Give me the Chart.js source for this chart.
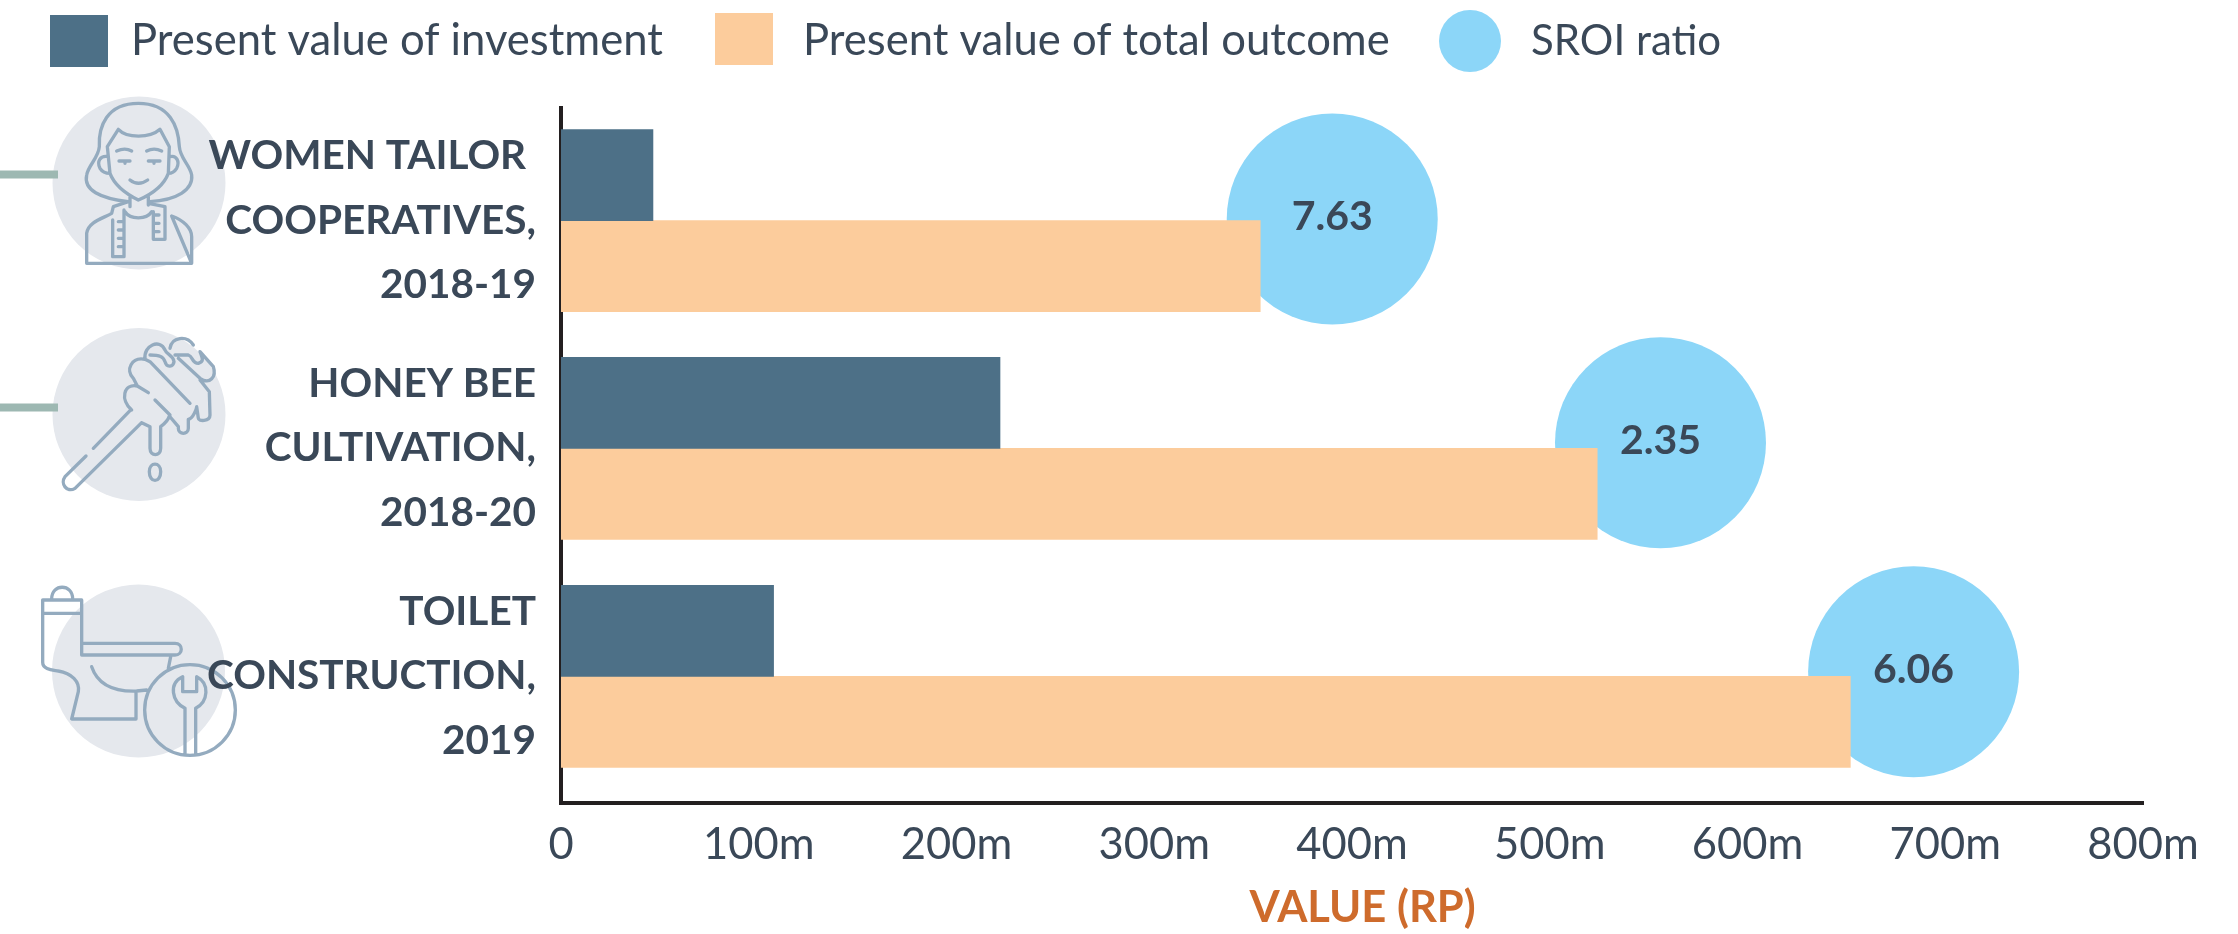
<!DOCTYPE html>
<html><head><meta charset="utf-8">
<style>html,body{margin:0;padding:0;background:#fff}canvas{display:block}</style>
<script src="https://cdn.jsdelivr.net/npm/chart.js@4"></script>
</head><body><div style="width:2238px;height:934px;position:relative"><canvas id="c" width="2238" height="934"></canvas></div>
<script>
const categories = [["WOMEN TAILOR ","COOPERATIVES,","2018-19"],["HONEY BEE","CULTIVATION,","2018-20"],["TOILET","CONSTRUCTION,","2019"]];
const categoryPositions = [0,1,2];
const investment = [46.5,222,107.5];
const outcome = [353.6,524,652];
const sroiRatio = [7.63,2.35,6.06];
const sroiBubbleX = [390,556,684];
const sroiBubbleY = [-0.007,-0.025,-0.02];
const seriesNames = ["Present value of investment","Present value of total outcome","SROI ratio"];
const xTicks = [0,100,200,300,400,500,600,700,800];
const FONT = 'Lato';
const INK = '#3A4858';
const DARK='#4D7087', PEACH='#FCCC9C', SKY='#8CD6F8';

function icon(c,ox,oy,paths,extra){
  c.save();c.translate(ox,oy);c.scale(1/3,1/3);
  c.strokeStyle='#94ABBF';c.lineWidth=10;c.lineCap='round';c.lineJoin='round';
  c.stroke(new Path2D(paths));
  if(extra)extra(c);
  c.restore();
}
const womanIcon="M235,335 C150,325 100,300 110,255 C115,225 145,205 148,170 C145,110 170,40 265,40 C360,40 385,110 388,170 C390,205 420,225 425,255 C430,300 380,330 300,335 "+
 "M172,170 L205,118 C230,145 300,145 330,118 L358,170 L355,250 C340,290 300,315 265,330 C235,315 195,290 180,250 Z "+
 "M175,200 C150,195 140,215 150,235 C158,248 170,250 180,250 M360,200 C380,195 390,215 380,235 C372,248 362,250 355,250 "+
 "M200,183 Q225,172 245,183 M290,183 Q312,172 335,183 M207,213 L240,213 M295,213 L330,213 M225,213 L225,220 M312,213 L312,220 M240,270 Q265,290 293,270 "+
 "M225,365 C240,390 290,390 305,365 M240,320 L240,350 M295,320 L295,345 "+
 "M110,520 L110,430 C115,395 160,385 185,370 L190,350 L235,335 M365,378 C400,390 425,415 425,440 L425,520 Z M110,520 L425,520 "+
 "M188,390 L188,500 L222,500 L222,360 M205,395 L222,395 M205,420 L222,420 M205,445 L222,445 M205,470 L222,470 "+
 "M310,365 L310,448 L345,448 L345,350 L295,340 M310,375 L327,375 M310,400 L327,400 M310,425 L327,425";
const honeyIcon="M240,272 L130,385 M108,408 L45,470 C30,490 50,520 75,505 L275,308 "+
 "M245,270 C210,240 220,190 262,198 L295,218 M315,240 L360,285 M275,308 L300,320 L300,385 C300,410 332,410 332,385 L332,320 C345,310 355,300 358,288 "+
 "M262,198 L250,175 C225,150 245,110 285,118 L300,125 L420,250 "+
 "M358,288 L385,320 L385,325 C385,345 415,345 415,325 L415,298 C430,295 440,265 440,260 L445,295 C445,305 480,305 480,285 L478,215 L450,180 "+
 "M285,118 C280,75 330,55 345,90 C350,105 370,105 372,125 C370,140 350,145 345,125 C340,110 330,105 300,105 "+
 "M360,85 C365,50 410,45 430,75 M375,105 L415,105 C430,110 425,130 445,130 C460,125 460,120 450,95 L490,140 C500,170 480,195 450,175 L385,115 "+
 "M298,455 C298,425 332,425 332,455 C332,490 298,490 298,455 Z";
const toiletIcon="M38,75 L155,75 L155,115 L38,115 Z M65,72 C65,25 128,25 128,72 "+
 "M38,115 L38,262 C38,285 70,285 85,288 C125,295 150,320 145,350 L125,432 L318,432 L318,350 M155,115 L155,240 "+
 "M155,205 L435,205 C460,205 460,240 435,240 L155,240 M185,275 C205,335 260,350 320,348 L350,345 M422,245 L415,280 "+
 "M465,535 L465,400 C425,380 415,325 458,305 L458,350 L500,350 L500,305 C540,325 535,380 497,400 L497,535 "+
 "M616,405 A136,136 0 1 1 344,405 A136,136 0 1 1 616,405 Z";

const decor = {
  id:'decor',
  beforeDraw(chart){
    const c=chart.ctx;c.save();
    c.fillStyle='#E5E8ED';
    [[139,183],[139,414.5],[138.5,671]].forEach(p=>{c.beginPath();c.arc(p[0],p[1],86.5,0,7);c.fill();});
    c.fillStyle='#9DB8B2';c.fillRect(0,170.5,58,8);c.fillRect(0,403.5,58,8);
    icon(c,50,90,womanIcon);
    icon(c,50,320,honeyIcon);
    icon(c,30,575,toiletIcon);
    c.restore();
  },
  afterDraw(chart){
    const c=chart.ctx;c.save();
    c.fillStyle=DARK;c.fillRect(50,15,58,52);
    c.fillStyle=PEACH;c.fillRect(715,13,58,52);
    c.fillStyle=SKY;c.beginPath();c.arc(1470,41,31,0,7);c.fill();
    c.fillStyle=INK;c.font='400 43.6px '+FONT;c.textBaseline='middle';c.textAlign='left';
    c.fillText(seriesNames[0],131,41);c.fillText(seriesNames[1],803,41);
    c.font='400 42px '+FONT;c.fillText(seriesNames[2],1531,41);
    const meta=chart.getDatasetMeta(2);
    c.textAlign='center';c.font='700 41px '+FONT;
    meta.data.forEach((el,i)=>c.fillText(sroiRatio[i].toFixed(2),el.x,el.y-2));
    c.restore();
  }
};
new Chart(document.getElementById('c'),{
  data:{
    datasets:[
      {type:'bar',label:seriesNames[0],data:investment.map((v,i)=>({x:v,y:categoryPositions[i]})),backgroundColor:DARK,order:1,barThickness:91},
      {type:'bar',label:seriesNames[1],data:outcome.map((v,i)=>({x:v,y:categoryPositions[i]})),backgroundColor:PEACH,order:2,barThickness:91},
      {type:'bubble',label:seriesNames[2],data:sroiBubbleX.map((v,i)=>({x:v,y:categoryPositions[i]+sroiBubbleY[i]})),backgroundColor:SKY,borderWidth:0,radius:105.5,order:3,clip:false}
    ]
  },
  options:{
    indexAxis:'y',responsive:false,animation:false,
    layout:{autoPadding:false,padding:{left:0,right:95,top:108,bottom:0}},
    plugins:{legend:{display:false},tooltip:{enabled:false},title:{display:false}},
    scales:{
      x:{type:'linear',position:'bottom',min:0,max:800,
        afterFit(s){s.height=131;},
        grid:{display:false,drawTicks:false},border:{color:'#231F20',width:4},
        ticks:{stepSize:100,padding:16,maxRotation:0,color:INK,font:{family:FONT,size:43.5},
          callback:v=>xTicks.includes(v)?(v===0?'0':v+'m'):''},
        title:{display:true,text:'  VALUE (RP)',color:'#CE6B2C',font:{family:FONT,size:43.5,weight:'700'},padding:{top:10,bottom:0}}},
      y:{type:'linear',reverse:true,min:-0.494,max:2.556,position:'left',offset:false,
        afterFit(s){s.width=561;},
        grid:{display:false,drawTicks:false},border:{color:'#231F20',width:4},
        ticks:{stepSize:1,padding:25,color:INK,font:{family:FONT,size:40.5,weight:'700',lineHeight:1.6},autoSkip:false,
          callback:v=>Number.isInteger(v)?categories[v]:''}}
    }
  },
  plugins:[decor]
});
</script></body></html>
